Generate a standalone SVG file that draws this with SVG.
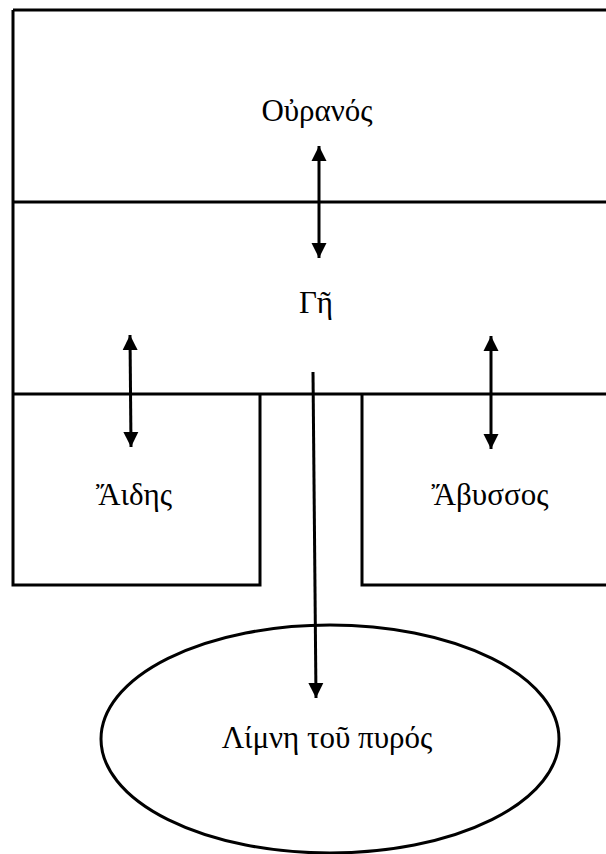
<svg xmlns="http://www.w3.org/2000/svg" width="606" height="854" viewBox="0 0 606 854">
<defs>
<style>
.ln{stroke:#000;stroke-width:3;fill:none}
.ar{stroke:#000;stroke-width:3;fill:none}
.t{font-family:"Liberation Serif","DejaVu Serif",serif;font-size:31px;fill:#000;text-anchor:middle}
</style>
<marker id="ah" markerUnits="userSpaceOnUse" markerWidth="16" markerHeight="16" viewBox="0 0 16 16" refX="15" refY="8" orient="auto-start-reverse">
<path d="M0,0.5 L15,8 L0,15.5 Z" fill="#000"/>
</marker>
</defs>
<rect width="606" height="854" fill="#fff"/>
<g id="ouranos">
<path class="ln" d="M13,10 H610 M13,10 V202"/>
<text class="t" x="317" y="121">Οὐρανός</text>
</g>
<g id="ge">
<path class="ln" d="M13,202 H610 M13,202 V394"/>
<text class="t" x="316" y="313">Γῆ</text>
</g>
<g id="hades">
<path class="ln" d="M13,394 H260 M13,394 V585 H260 V394"/>
<text class="t" x="134" y="505">Ἄιδης</text>
</g>
<g id="abyssos">
<path class="ln" d="M260,394 H610 M362,394 V585 H610"/>
<text class="t" x="490" y="505">Ἄβυσσος</text>
</g>
<g id="lake">
<ellipse class="ln" cx="330" cy="739" rx="229" ry="114"/>
<text class="t" x="327" y="748">Λίμνη τοῦ πυρός</text>
</g>
<g id="connectors">
<line class="ar" x1="319" y1="146" x2="319" y2="258" marker-start="url(#ah)" marker-end="url(#ah)"/>
<line class="ar" x1="130" y1="335" x2="131" y2="447" marker-start="url(#ah)" marker-end="url(#ah)"/>
<line class="ar" x1="491" y1="336" x2="491" y2="449" marker-start="url(#ah)" marker-end="url(#ah)"/>
<line class="ar" x1="313" y1="372" x2="316" y2="698" marker-end="url(#ah)"/>
</g>
</svg>
